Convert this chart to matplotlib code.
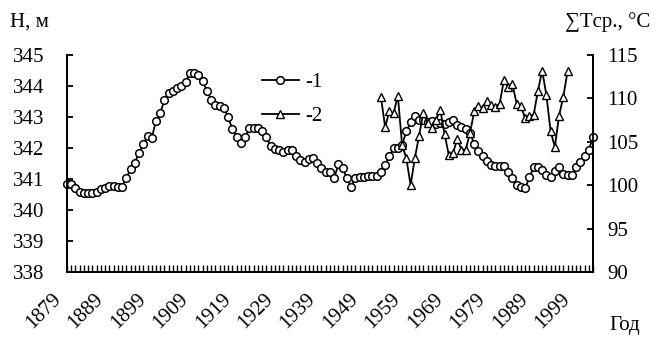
import matplotlib
matplotlib.use("Agg")
import matplotlib.pyplot as plt
import matplotlib.transforms as mtransforms

plt.rcParams['font.family'] = ['Liberation Serif', 'DejaVu Serif']

# уровень озера (H, м), 1879-2003
years_h = list(range(1879, 2004))
level = [
    340.84, 340.83, 340.71, 340.59, 340.56, 340.54, 340.54, 340.59, 340.66, 340.72,
    340.77, 340.77, 340.75, 340.75, 341.04, 341.31, 341.53, 341.83, 342.12, 342.39,
    342.33, 342.87, 343.14, 343.53, 343.76, 343.84, 343.92, 344.00, 344.14, 344.41,
    344.43, 344.35, 344.16, 343.84, 343.55, 343.39, 343.35, 343.30, 343.00, 342.60,
    342.34, 342.15, 342.34, 342.63, 342.65, 342.63, 342.55, 342.34, 342.06, 341.97,
    341.94, 341.88, 341.94, 341.94, 341.74, 341.61, 341.56, 341.65, 341.67, 341.51,
    341.35, 341.24, 341.21, 341.04, 341.47, 341.35, 341.02, 340.75, 341.04, 341.07,
    341.07, 341.10, 341.10, 341.10, 341.22, 341.45, 341.74, 341.99, 341.99, 342.10,
    342.53, 342.82, 343.03, 342.90, 342.90, 342.85, 342.87, 342.77, 342.80, 342.77,
    342.82, 342.90, 342.74, 342.66, 342.60, 342.49, 342.12, 341.90, 341.74, 341.58,
    341.45, 341.43, 341.43, 341.42, 341.24, 341.02, 340.81, 340.73, 340.70, 341.05,
    341.38, 341.40, 341.29, 341.13, 341.05, 341.27, 341.38, 341.16, 341.13, 341.13,
    341.38, 341.56, 341.74, 341.94, 342.34,
]

# сумма средних температур (°C), 1953-1997
years_t = list(range(1953, 1998))
temp_sum = [
    110.2, 106.7, 108.5, 108.3, 110.3, 104.6, 103.1, 100.0, 103.1, 105.7,
    108.3, 107.1, 106.6, 107.5, 108.7, 105.9, 103.5, 103.7, 105.3, 104.1,
    104.1, 106.0, 108.5, 109.1, 108.9, 109.7, 109.2, 109.0, 109.4, 112.1,
    111.3, 111.6, 109.4, 109.1, 107.7, 108.0, 108.1, 110.8, 113.2, 110.4,
    106.2, 104.4, 108.0, 110.2, 113.1,
]

label_years = list(range(1879, 2000, 10))

fig = plt.figure(figsize=(6.56, 3.43), dpi=100)
ax = fig.add_axes([0.102, 0.207, 0.802, 0.633])
ax2 = ax.twinx()

l1, = ax.plot(years_h, level, color='black', lw=1.3, marker='o', ms=5.5,
              mfc='white', mec='black', mew=1.1, clip_on=False, zorder=3)
l2, = ax2.plot(years_t, temp_sum, color='black', lw=1.3, marker='^', ms=5.5,
               mfc='white', mec='black', mew=1.0, clip_on=False, zorder=3)

ax.set_xlim(1879, 2003)
ax.set_ylim(338, 345)
ax2.set_ylim(90, 115)
ax.set_yticks(range(338, 346))
ax2.set_yticks(range(90, 116, 5))

for a in (ax, ax2):
    a.spines['top'].set_visible(False)
    for s in a.spines.values():
        s.set_linewidth(1.3)

ax.tick_params(axis='y', direction='in', length=4, width=1.3, labelsize=15, pad=16)
ax2.tick_params(axis='y', direction='in', length=4, width=1.3, labelsize=15, pad=10)

# метки по каждому году, подписи через 10 лет
ax.set_xticks(years_h)
ax.set_xticklabels([str(y) if y in label_years else '' for y in years_h],
                   rotation=45, ha='right', rotation_mode='anchor')
ax.tick_params(axis='x', direction='in', length=5, width=1.0, labelsize=15, pad=13)
shift = mtransforms.ScaledTranslation(-11 / 72, 0, fig.dpi_scale_trans)
for t in ax.get_xticklabels():
    t.set_transform(t.get_transform() + shift)

ax.text(1.032, -0.245, 'Год', transform=ax.transAxes, fontsize=15,
        ha='left', va='center')
fig.text(10 / 656, 1 - 22 / 343, 'H, м', fontsize=15, ha='left', va='center')
fig.text(650 / 656, 1 - 22 / 343, '∑Tср., °C', fontsize=15, ha='right', va='center')

ax.legend([l1, l2], ['-1', '-2'], loc='upper left', bbox_to_anchor=(0.37, 0.92),
          frameon=False, fontsize=15, handlelength=1.8, handletextpad=0.3,
          labelspacing=0.7, borderpad=0, borderaxespad=0)

fig.savefig('out.png', dpi=100)
